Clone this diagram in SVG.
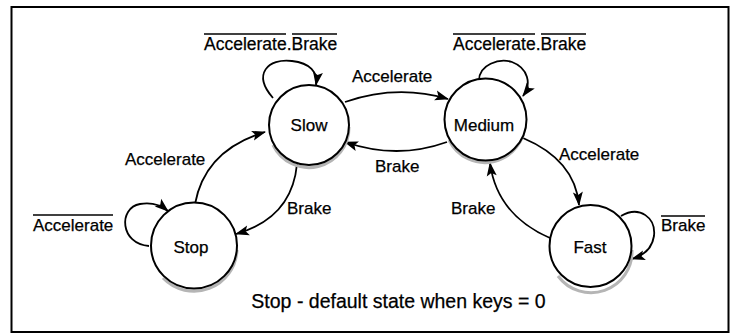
<svg xmlns="http://www.w3.org/2000/svg" width="732" height="336" viewBox="0 0 732 336">
<style>
text{font-family:"Liberation Sans",Arial,sans-serif;font-size:17px;fill:#000;stroke:#000;stroke-width:0.25}
.big{font-size:17.5px}
.cap{font-size:19.5px}
.st{fill:#fff;stroke:#000;stroke-width:2}
.sh{fill:none;stroke:#b5b5b5;stroke-width:3}
.c{fill:none;stroke:#000;stroke-width:1.8}
.ov{stroke:#000;stroke-width:1.3}
.mid{text-anchor:middle}
</style>
<defs>
<marker id="ah" markerUnits="userSpaceOnUse" markerWidth="14" markerHeight="12" refX="13" refY="5" orient="auto" overflow="visible">
<path d="M0,0 L14,5 L0,10 L3,5 z" fill="#000"/>
</marker>
</defs>
<rect x="11.5" y="7" width="717" height="325" fill="#fff" stroke="#000" stroke-width="2"/>

<g id="connectors">
<path class="c" d="M345,102 Q397,84 448,99" marker-end="url(#ah)"/>
<path class="c" d="M447,142 Q397,160 345,142" marker-end="url(#ah)"/>
<path class="c" d="M195,204 Q205,150 265,132" marker-end="url(#ah)"/>
<path class="c" d="M297,164 Q292,218 236,234" marker-end="url(#ah)"/>
<path class="c" d="M523,138 Q575,160 579,205" marker-end="url(#ah)"/>
<path class="c" d="M550,238 Q497,215 490,163" marker-end="url(#ah)"/>
<path class="c" d="M273,98 C252,74 268,58 292,61 C310,63 318,72 316,85" marker-end="url(#ah)"/>
<path class="c" d="M479,82 C478,64 500,58 512,62 C528,68 532,84 523,96" marker-end="url(#ah)"/>
<path class="c" d="M149,246 C120,244 118,208 140,204 C152,202 162,206 168,211" marker-end="url(#ah)"/>
<path class="c" d="M621,216 C640,205 656,218 654,236 C652,250 642,256 632,259" marker-end="url(#ah)"/>
</g>

<g id="slow">
<path class="sh" d="M273,145 A40,40 0 0 0 349,127"/>
<circle class="st" cx="309" cy="125" r="40"/>
<text class="mid" x="309" y="131">Slow</text>
</g>
<g id="medium">
<path class="sh" d="M449,140 A40,40 0 0 0 525,122"/>
<circle class="st" cx="485.5" cy="119.5" r="41"/>
<text class="mid" x="484" y="131">Medium</text>
</g>
<g id="stop">
<path class="sh" d="M163,278 A43,43 0 0 0 237,250"/>
<circle class="st" cx="194" cy="245.5" r="43"/>
<text class="mid" x="191" y="253">Stop</text>
</g>
<g id="fast">
<path class="sh" d="M558,276 A41,41 0 0 0 632,250"/>
<circle class="st" cx="590.5" cy="246" r="41"/>
<text class="mid" x="590" y="253">Fast</text>
</g>

<g id="labels">
<text class="big" x="204" y="50">Accelerate.Brake</text>
<line class="ov" x1="204" y1="34" x2="286" y2="34"/>
<line class="ov" x1="292" y1="34" x2="337" y2="34"/>
<text class="big" x="453" y="50">Accelerate.Brake</text>
<line class="ov" x1="453" y1="34" x2="535" y2="34"/>
<line class="ov" x1="541" y1="34" x2="586" y2="34"/>
<text x="352" y="82">Accelerate</text>
<text x="375" y="172">Brake</text>
<text x="125" y="165">Accelerate</text>
<text x="287" y="214">Brake</text>
<text x="33" y="231">Accelerate</text>
<line class="ov" x1="33" y1="215" x2="113" y2="215"/>
<text x="559" y="160">Accelerate</text>
<text x="451" y="214">Brake</text>
<text x="661" y="231">Brake</text>
<line class="ov" x1="661" y1="216" x2="705" y2="216"/>
<text class="mid cap" x="398.5" y="308">Stop - default state when keys = 0</text>
</g>
</svg>
